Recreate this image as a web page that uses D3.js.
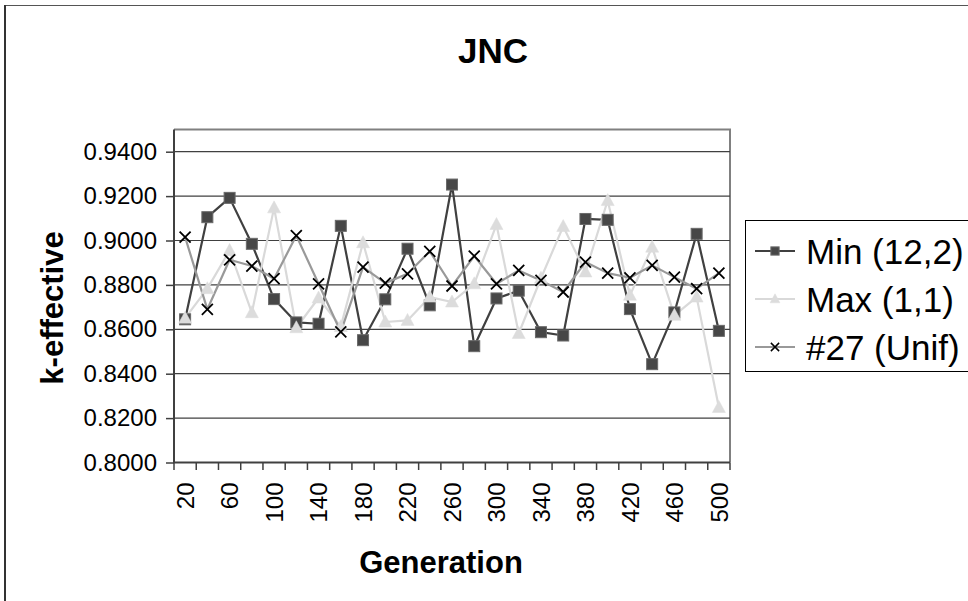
<!DOCTYPE html>
<html>
<head>
<meta charset="utf-8">
<script src="https://cdn.jsdelivr.net/npm/d3@7"></script>
<style>
  html, body { margin: 0; padding: 0; background: #fff; }
  svg { display: block; }
  text { font-family: "Liberation Sans", Arial, sans-serif; fill: #000; }
</style>
</head>
<body>
<svg id="chart" width="968" height="601"></svg>
<script>
// Generations (category axis)
const generations = [20, 40, 60, 80, 100, 120, 140, 160, 180, 200, 220, 240, 260,
                     280, 300, 320, 340, 360, 380, 400, 420, 440, 460, 480, 500];

// k-effective per generation, one list per configuration
const minVals  = [0.8645, 0.9105, 0.9192, 0.8985, 0.8736, 0.8631, 0.8625, 0.9066, 0.8551,
                  0.8735, 0.8963, 0.8708, 0.9252, 0.8524, 0.8739, 0.8774, 0.8587, 0.8572,
                  0.9097, 0.9093, 0.8691, 0.8443, 0.8676, 0.9030, 0.8593];
const maxVals  = [0.8650, 0.8783, 0.8955, 0.8675, 0.9147, 0.8607, 0.8741, 0.8612, 0.8990,
                  0.8633, 0.8640, 0.8745, 0.8723, 0.8805, 0.9072, 0.8581, 0.8830, 0.9063,
                  0.8858, 0.9180, 0.8753, 0.8970, 0.8663, 0.8745, 0.8248];
const unifVals = [0.9015, 0.8690, 0.8913, 0.8885, 0.8828, 0.9022, 0.8805, 0.8588, 0.8880,
                  0.8808, 0.8850, 0.8951, 0.8795, 0.8930, 0.8805, 0.8865, 0.8820, 0.8768,
                  0.8903, 0.8853, 0.8832, 0.8888, 0.8835, 0.8783, 0.8853];

const seriesNames = ["Min (12,2)", "Max (1,1)", "#27 (Unif)"];
const yTicks = [0.80, 0.82, 0.84, 0.86, 0.88, 0.90, 0.92, 0.94];
const chartTitle = "JNC";
const xTitle = "Generation";
const yTitle = "k-effective";

const series = [
  { name: seriesNames[0], values: minVals,  line: "#404040", marker: "square" },
  { name: seriesNames[1], values: maxVals,  line: "#d9d9d9", marker: "triangle" },
  { name: seriesNames[2], values: unifVals, line: "#999999", marker: "cross" }
];

const svg = d3.select("#chart");
const plot = { left: 174, right: 730, top: 129.5, bottom: 462.5 };
const FONT = "Liberation Sans, Arial, sans-serif";

// outer chart frame
svg.append("rect").attr("x", 5).attr("y", 5.5).attr("width", 1000).attr("height", 700)
  .attr("fill", "#fff").attr("stroke", "#555").attr("stroke-width", 1);
svg.append("line").attr("x1", 5).attr("x2", 5).attr("y1", 5).attr("y2", 601)
  .attr("stroke", "#333").attr("stroke-width", 2);

const x = d3.scaleBand().domain(generations).range([plot.left, plot.right]).padding(0);
const y = d3.scaleLinear().domain([0.80, 0.95]).range([plot.bottom, plot.top]);
const cx = g => x(g) + x.bandwidth() / 2;

// plot area frame (top and right)
svg.append("path")
  .attr("d", `M${plot.left},${plot.top}H${plot.right}V${plot.bottom}`)
  .attr("fill", "none").attr("stroke", "#808080").attr("stroke-width", 2);

// horizontal gridlines
svg.append("g").selectAll("line")
  .data(yTicks.filter(t => t > 0.80))
  .join("line")
  .attr("x1", plot.left).attr("x2", plot.right)
  .attr("y1", d => y(d)).attr("y2", d => y(d))
  .attr("stroke", "#404040").attr("stroke-width", 1.2);

// y axis
const yAxis = svg.append("g").attr("transform", `translate(${plot.left},0)`)
  .call(d3.axisLeft(y).tickValues(yTicks).tickFormat(d3.format(".4f"))
    .tickSize(8).tickSizeOuter(0).tickPadding(9));
yAxis.select(".domain").remove();
yAxis.selectAll(".tick line").attr("stroke", "#404040").attr("stroke-width", 1.5);
yAxis.selectAll(".tick text").attr("font-size", 24).attr("font-family", FONT);

// x axis: labels on every other category, ticks between categories
const xAxis = svg.append("g").attr("transform", `translate(0,${plot.bottom})`)
  .call(d3.axisBottom(x).tickValues(generations.filter((d, i) => i % 2 === 0))
    .tickSize(0).tickSizeOuter(0));
xAxis.select(".domain").remove();
xAxis.selectAll(".tick text")
  .attr("font-size", 24).attr("font-family", FONT)
  .attr("transform", "rotate(-90)")
  .attr("text-anchor", "end")
  .attr("x", -20).attr("y", 0).attr("dy", "0.36em");

const boundaries = generations.map(g => x(g)).concat([x.range()[1]]);
svg.append("g").selectAll("line").data(boundaries).join("line")
  .attr("x1", d => d).attr("x2", d => d)
  .attr("y1", plot.bottom).attr("y2", plot.bottom + 7.5)
  .attr("stroke", "#404040").attr("stroke-width", 1.5);

// axis lines
svg.append("path")
  .attr("d", `M${plot.left},${plot.top}V${plot.bottom}H${plot.right}`)
  .attr("fill", "none").attr("stroke", "#404040").attr("stroke-width", 2);

// series lines
const line = d3.line().x((d, i) => cx(generations[i])).y(d => y(d));
series.forEach(s => {
  svg.append("path").datum(s.values)
    .attr("d", line).attr("fill", "none")
    .attr("stroke", s.line).attr("stroke-width", 2.2)
    .attr("stroke-linejoin", "round");
});

// marker drawing; k scales the symbol size
function drawMarker(g, type, px, py, k = 1) {
  if (type === "square") {
    const h = 5.5 * k;
    g.append("rect").attr("x", px - h).attr("y", py - h).attr("width", 2 * h).attr("height", 2 * h)
      .attr("fill", "#474747").attr("stroke", "#6a6a6a").attr("stroke-width", 1);
  } else if (type === "triangle") {
    g.append("path")
      .attr("d", `M${px},${py - 7 * k}L${px + 6.5 * k},${py + 5 * k}L${px - 6.5 * k},${py + 5 * k}Z`)
      .attr("fill", "#dcdcdc").attr("stroke", "#dcdcdc").attr("stroke-width", 0.5);
  } else {
    const r = 5.5 * k;
    g.append("path")
      .attr("d", `M${px - r},${py - r}L${px + r},${py + r}M${px + r},${py - r}L${px - r},${py + r}`)
      .attr("stroke", "#000").attr("stroke-width", 1.8 * Math.max(k, 0.8)).attr("fill", "none");
  }
}

series.forEach(s => {
  const g = svg.append("g");
  s.values.forEach((v, i) => drawMarker(g, s.marker, cx(generations[i]), y(v)));
});

// titles
svg.append("text").attr("x", 493).attr("y", 63).attr("text-anchor", "middle")
  .attr("font-size", 35).attr("font-weight", "bold").text(chartTitle);
svg.append("text").attr("x", 441).attr("y", 573).attr("text-anchor", "middle")
  .attr("font-size", 31).attr("font-weight", "bold").text(xTitle);
svg.append("text").attr("transform", "translate(63,308) rotate(-90)")
  .attr("text-anchor", "middle")
  .attr("font-size", 31).attr("font-weight", "bold").text(yTitle);

// legend
const legend = svg.append("g");
legend.append("rect").attr("x", 745.5).attr("y", 220.5).attr("width", 260).attr("height", 151)
  .attr("fill", "#fff").attr("stroke", "#000").attr("stroke-width", 1);
const rowY = [251, 299, 347];
series.forEach((s, i) => {
  const ly = rowY[i];
  legend.append("line").attr("x1", 755).attr("x2", 795).attr("y1", ly).attr("y2", ly)
    .attr("stroke", s.line).attr("stroke-width", 2.2);
  drawMarker(legend, s.marker, 775, ly, 0.75);
  legend.append("text").attr("x", 806).attr("y", ly).attr("dy", "0.36em")
    .attr("font-size", 35).text(s.name);
});
</script>
</body>
</html>
